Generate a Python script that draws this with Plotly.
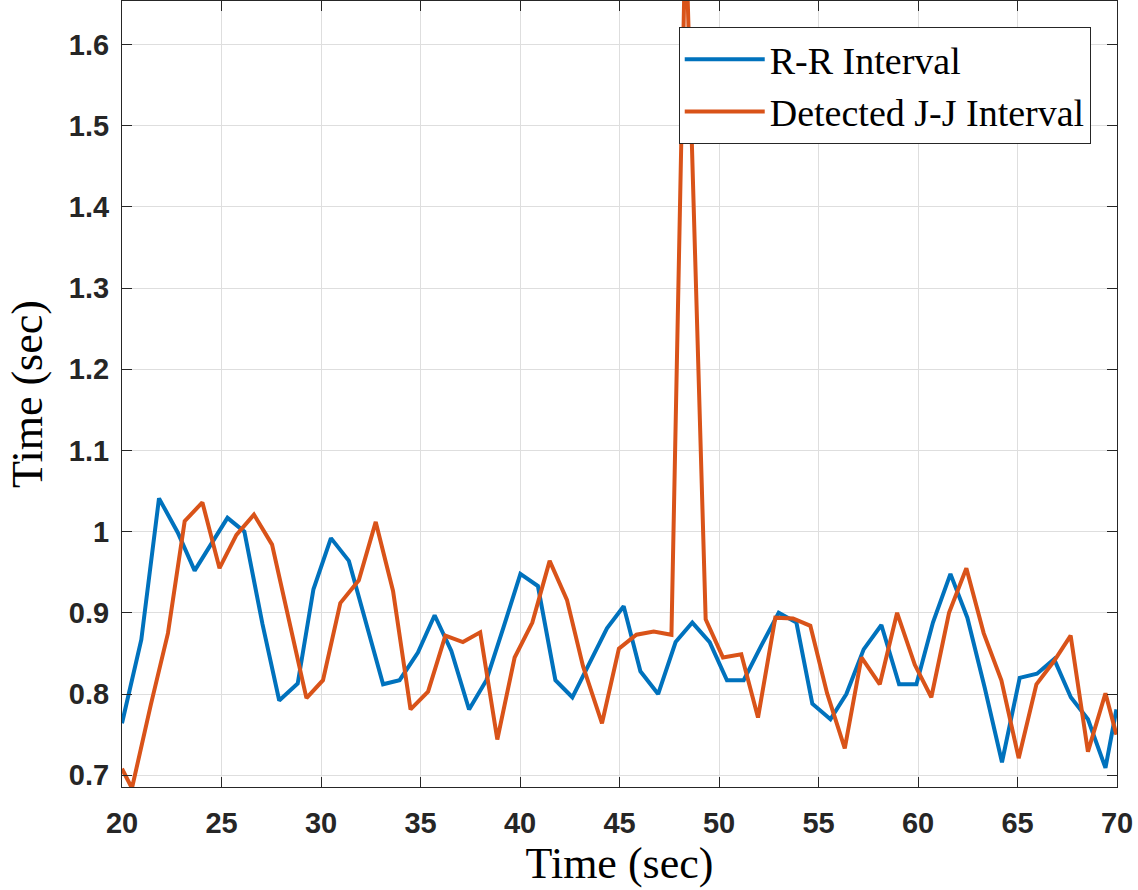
import plotly.graph_objects as go

# R-R interval series (time in s, interval in s)
rr_t = [20.0, 20.97, 21.86, 22.8, 23.65, 24.47, 25.3, 26.15, 27.06, 27.9, 28.83, 29.62,
        30.5, 31.4, 32.27, 33.12, 33.95, 34.87, 35.71, 36.55, 37.44, 38.31, 39.17, 40.02,
        40.9, 41.78, 42.63, 43.5, 44.37, 45.21, 46.05, 46.94, 47.82, 48.66, 49.53, 50.4,
        51.24, 52.13, 53.0, 53.89, 54.69, 55.6, 56.4, 57.27, 58.16, 59.05, 59.92, 60.75,
        61.63, 62.48, 63.35, 64.22, 65.11, 65.98, 66.84, 67.68, 68.54, 69.42, 69.97]
rr_v = [0.764, 0.867, 1.041, 0.999, 0.952, 0.985, 1.017, 1.0, 0.886, 0.792, 0.813, 0.929,
        0.992, 0.964, 0.888, 0.812, 0.817, 0.851, 0.897, 0.853, 0.781, 0.817, 0.882, 0.948,
        0.933, 0.817, 0.796, 0.838, 0.881, 0.908, 0.828, 0.800, 0.864, 0.888, 0.864, 0.817,
        0.817, 0.860, 0.900, 0.888, 0.788, 0.769, 0.800, 0.855, 0.885, 0.812, 0.812, 0.888,
        0.948, 0.894, 0.808, 0.716, 0.820, 0.825, 0.843, 0.796, 0.769, 0.709, 0.781]

# Detected J-J interval series
jj_t = [20.0, 20.5, 21.45, 22.31, 23.15, 24.04, 24.9, 25.75, 26.63, 27.54, 28.4, 29.27,
        30.1, 30.97, 31.9, 32.75, 33.62, 34.5, 35.38, 36.25, 37.13, 38.0, 38.86, 39.73,
        40.62, 41.49, 42.36, 43.17, 44.12, 44.97, 45.85, 46.72, 47.61, 48.32, 49.33, 50.2,
        51.12, 51.96, 52.83, 53.72, 54.59, 55.43, 56.32, 57.16, 58.08, 58.95, 59.84, 60.67,
        61.56, 62.43, 63.3, 64.19, 65.06, 65.95, 66.82, 67.67, 68.54, 69.42, 69.97]
jj_v = [0.708, 0.684, 0.787, 0.875, 1.013, 1.036, 0.955, 0.996, 1.021, 0.984, 0.890, 0.795,
        0.817, 0.912, 0.940, 1.012, 0.927, 0.781, 0.803, 0.872, 0.864, 0.876, 0.744, 0.845,
        0.888, 0.964, 0.916, 0.834, 0.764, 0.856, 0.873, 0.877, 0.873, 1.745, 0.892, 0.845,
        0.849, 0.771, 0.894, 0.893, 0.884, 0.801, 0.733, 0.845, 0.812, 0.900, 0.836, 0.796,
        0.900, 0.955, 0.875, 0.817, 0.721, 0.812, 0.840, 0.872, 0.729, 0.801, 0.750]

x_ticks = [20, 25, 30, 35, 40, 45, 50, 55, 60, 65, 70]
y_ticks = [0.7, 0.8, 0.9, 1.0, 1.1, 1.2, 1.3, 1.4, 1.5, 1.6]
y_tick_labels = ["0.7", "0.8", "0.9", "1", "1.1", "1.2", "1.3", "1.4", "1.5", "1.6"]

AX = "#262626"
GRID = "#dedede"
tickfont = dict(family="Liberation Sans, Arial, sans-serif", size=29, color=AX, weight="bold")
serif = "Liberation Serif, Times New Roman, serif"

fig = go.Figure()
fig.add_trace(go.Scatter(x=rr_t, y=rr_v, mode="lines", name="R-R Interval",
                         line=dict(color="#0072BD", width=4)))
fig.add_trace(go.Scatter(x=jj_t, y=jj_v, mode="lines", name="Detected J-J Interval",
                         line=dict(color="#D95319", width=4)))

fig.update_layout(
    width=1138, height=890,
    margin=dict(l=122, r=21, t=1, b=103),
    paper_bgcolor="white", plot_bgcolor="white",
    showlegend=True,
    legend=dict(x=0.9736, y=0.967, xanchor="right", yanchor="top",
                bgcolor="white", bordercolor=AX, borderwidth=1,
                font=dict(family=serif, size=38, color="black"),
                itemwidth=80, tracegroupgap=0),
    xaxis=dict(range=[20, 70], tickvals=x_ticks, ticks="inside", ticklen=10, tickcolor=AX,
               showline=True, linecolor=AX, linewidth=1, mirror="ticks",
               showgrid=True, gridcolor=GRID, gridwidth=1, zeroline=False,
               tickfont=tickfont, ticklabelstandoff=10,
               title=dict(text="Time (sec)", font=dict(family=serif, size=44, color="black"),
                          standoff=6)),
    yaxis=dict(range=[0.6855, 1.6535], tickvals=y_ticks, ticktext=y_tick_labels,
               ticks="inside", ticklen=10, tickcolor=AX,
               showline=True, linecolor=AX, linewidth=1, mirror="ticks",
               showgrid=True, gridcolor=GRID, gridwidth=1, zeroline=False,
               tickfont=tickfont, ticklabelstandoff=6,
               title=dict(text="Time (sec)", font=dict(family=serif, size=44, color="black"),
                          standoff=12)),
)

fig.write_html("out.html")
